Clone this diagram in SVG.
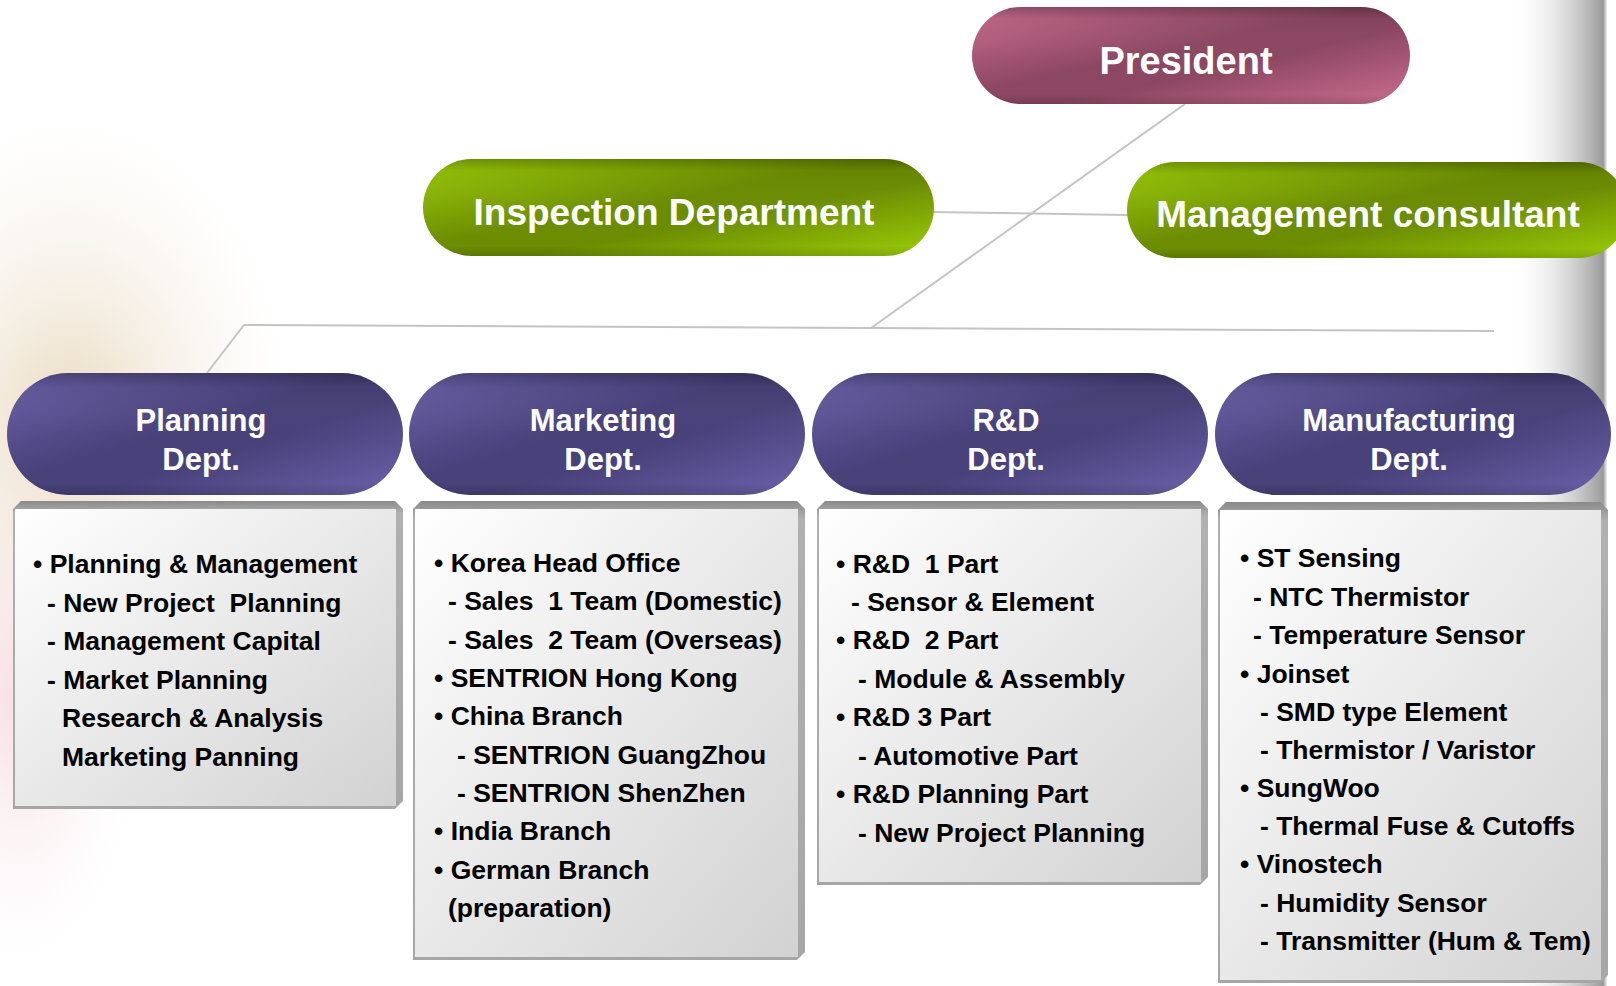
<svg xmlns="http://www.w3.org/2000/svg" width="1616" height="986" viewBox="0 0 1616 986">
<defs>
<style>
.lbl{font-family:"Liberation Sans",Arial,sans-serif;font-weight:bold;fill:#ffffff;text-anchor:middle}
.big{font-size:37px}
.dep{font-size:31px}
.it{font-family:"Liberation Sans",Arial,sans-serif;font-weight:bold;font-size:26.5px;fill:#000000;white-space:pre}
.conn{fill:none;stroke:#c4c4c4;stroke-width:2}
.shine{fill:url(#shine)}
</style>
<linearGradient id="gPink" x1="0" y1="0" x2="1" y2="1">
<stop offset="0" stop-color="#cc6e90"/><stop offset="0.45" stop-color="#8c4762"/><stop offset="0.6" stop-color="#8c4762"/><stop offset="1" stop-color="#cc6e90"/>
</linearGradient>
<linearGradient id="gGreen" x1="0" y1="0" x2="1" y2="1">
<stop offset="0" stop-color="#9ccf08"/><stop offset="0.45" stop-color="#6c8c02"/><stop offset="0.6" stop-color="#6c8c02"/><stop offset="1" stop-color="#9ccf08"/>
</linearGradient>
<linearGradient id="gPurple" x1="0" y1="0" x2="1" y2="1">
<stop offset="0" stop-color="#6d62ab"/><stop offset="0.45" stop-color="#48417a"/><stop offset="0.6" stop-color="#48417a"/><stop offset="1" stop-color="#6d62ab"/>
</linearGradient>
<linearGradient id="shine" x1="0" y1="0" x2="0" y2="1">
<stop offset="0" stop-color="#000000" stop-opacity="0.28"/><stop offset="0.12" stop-color="#000000" stop-opacity="0.05"/><stop offset="0.5" stop-color="#ffffff" stop-opacity="0"/><stop offset="0.9" stop-color="#000000" stop-opacity="0"/><stop offset="1" stop-color="#000000" stop-opacity="0.15"/>
</linearGradient>
<linearGradient id="face" x1="0" y1="0" x2="1" y2="1">
<stop offset="0" stop-color="#ffffff"/><stop offset="1" stop-color="#d2d2d2"/>
</linearGradient>
<linearGradient id="frame" x1="0" y1="0" x2="0" y2="1">
<stop offset="0" stop-color="#8a8a8a"/><stop offset="0.04" stop-color="#b0b0b0"/><stop offset="1" stop-color="#a6a6a6"/>
</linearGradient>
<linearGradient id="rightBand" x1="0" y1="0" x2="1" y2="0">
<stop offset="0" stop-color="#ffffff" stop-opacity="0"/><stop offset="0.88" stop-color="#9a9a9a"/><stop offset="0.92" stop-color="#ffffff"/><stop offset="1" stop-color="#ffffff"/>
</linearGradient>
<radialGradient id="glow1" cx="0.5" cy="0.5" r="0.5">
<stop offset="0" stop-color="#e6d4b4" stop-opacity="0.85"/><stop offset="1" stop-color="#f4ece4" stop-opacity="0"/>
</radialGradient>
<radialGradient id="glow2" cx="0.5" cy="0.5" r="0.5">
<stop offset="0" stop-color="#f0c8d0" stop-opacity="0.6"/><stop offset="1" stop-color="#f8e8ec" stop-opacity="0"/>
</radialGradient>
</defs>
<rect width="1616" height="986" fill="#ffffff"/>
<ellipse cx="70" cy="420" rx="220" ry="300" fill="url(#glow1)"/>
<ellipse cx="20" cy="700" rx="120" ry="260" fill="url(#glow2)"/>
<rect x="1510" y="0" width="106" height="986" fill="url(#rightBand)"/>

<g id="connectors">
<path class="conn" d="M1185,104 L871,328"/>
<path class="conn" d="M207,373 L244,325 L871,328 L1494,331"/>
<path class="conn" d="M930,212 L1128,215"/>
</g>

<g id="president">
<rect x="972" y="7" width="438" height="97" rx="48.5" fill="url(#gPink)"/>
<rect x="972" y="7" width="438" height="97" rx="48.5" class="shine"/>
<text class="lbl" style="font-size:38px" x="1186" y="74">President</text>
</g>

<g id="inspection">
<rect x="423" y="159" width="511" height="97" rx="48.5" fill="url(#gGreen)"/>
<rect x="423" y="159" width="511" height="97" rx="48.5" class="shine"/>
<text class="lbl big" x="674" y="225">Inspection Department</text>
</g>

<g id="consultant">
<rect x="1127" y="162" width="500" height="96" rx="48" fill="url(#gGreen)"/>
<rect x="1127" y="162" width="500" height="96" rx="48" class="shine"/>
<text class="lbl big" x="1368" y="227">Management consultant</text>
</g>

<g id="planning">
<rect x="7" y="373" width="396" height="122" rx="61" fill="url(#gPurple)"/>
<rect x="7" y="373" width="396" height="122" rx="61" class="shine"/>
<text class="lbl dep" x="201" y="431">Planning</text>
<text class="lbl dep" x="201" y="470">Dept.</text>
<polygon points="13,509 21,501 395,501 403,509 403,801 395,809 13,809" fill="url(#frame)"/>
<rect x="15" y="509" width="381" height="297" fill="url(#face)"/>
<text class="it" x="33" y="573">• Planning &amp; Management</text>
<text class="it" x="47" y="612">- New Project  Planning</text>
<text class="it" x="47" y="650">- Management Capital</text>
<text class="it" x="47" y="689">- Market Planning</text>
<text class="it" x="62" y="727">Research &amp; Analysis</text>
<text class="it" x="62" y="766">Marketing Panning</text>
</g>

<g id="marketing">
<rect x="409" y="373" width="396" height="122" rx="61" fill="url(#gPurple)"/>
<rect x="409" y="373" width="396" height="122" rx="61" class="shine"/>
<text class="lbl dep" x="603" y="431">Marketing</text>
<text class="lbl dep" x="603" y="470">Dept.</text>
<polygon points="413,509 421,501 797,501 805,509 805,952 797,960 413,960" fill="url(#frame)"/>
<rect x="415" y="509" width="383" height="448" fill="url(#face)"/>
<text class="it" x="434" y="572">• Korea Head Office</text>
<text class="it" x="448" y="610">- Sales  1 Team (Domestic)</text>
<text class="it" x="448" y="649">- Sales  2 Team (Overseas)</text>
<text class="it" x="434" y="687">• SENTRION Hong Kong</text>
<text class="it" x="434" y="725">• China Branch</text>
<text class="it" x="457" y="764">- SENTRION GuangZhou</text>
<text class="it" x="457" y="802">- SENTRION ShenZhen</text>
<text class="it" x="434" y="840">• India Branch</text>
<text class="it" x="434" y="879">• German Branch</text>
<text class="it" x="448" y="917">(preparation)</text>
</g>

<g id="rnd">
<rect x="812" y="373" width="396" height="122" rx="61" fill="url(#gPurple)"/>
<rect x="812" y="373" width="396" height="122" rx="61" class="shine"/>
<text class="lbl dep" x="1006" y="431">R&amp;D</text>
<text class="lbl dep" x="1006" y="470">Dept.</text>
<polygon points="817,509 825,501 1200,501 1208,509 1208,877 1200,885 817,885" fill="url(#frame)"/>
<rect x="819" y="509" width="382" height="373" fill="url(#face)"/>
<text class="it" x="836" y="573">• R&amp;D  1 Part</text>
<text class="it" x="851" y="611">- Sensor &amp; Element</text>
<text class="it" x="836" y="649">• R&amp;D  2 Part</text>
<text class="it" x="858" y="688">- Module &amp; Assembly</text>
<text class="it" x="836" y="726">• R&amp;D 3 Part</text>
<text class="it" x="858" y="765">- Automotive Part</text>
<text class="it" x="836" y="803">• R&amp;D Planning Part</text>
<text class="it" x="858" y="842">- New Project Planning</text>
</g>

<g id="manufacturing">
<rect x="1215" y="373" width="396" height="122" rx="61" fill="url(#gPurple)"/>
<rect x="1215" y="373" width="396" height="122" rx="61" class="shine"/>
<text class="lbl dep" x="1409" y="431">Manufacturing</text>
<text class="lbl dep" x="1409" y="470">Dept.</text>
<polygon points="1218,510 1226,502 1600,502 1608,510 1608,975 1600,983 1218,983" fill="url(#frame)"/>
<rect x="1220" y="510" width="381" height="470" fill="url(#face)"/>
<text class="it" x="1240" y="567">• ST Sensing</text>
<text class="it" x="1253" y="606">- NTC Thermistor</text>
<text class="it" x="1253" y="644">- Temperature Sensor</text>
<text class="it" x="1240" y="683">• Joinset</text>
<text class="it" x="1260" y="721">- SMD type Element</text>
<text class="it" x="1260" y="759">- Thermistor / Varistor</text>
<text class="it" x="1240" y="797">• SungWoo</text>
<text class="it" x="1260" y="835">- Thermal Fuse &amp; Cutoffs</text>
<text class="it" x="1240" y="873">• Vinostech</text>
<text class="it" x="1260" y="912">- Humidity Sensor</text>
<text class="it" x="1260" y="950">- Transmitter (Hum &amp; Tem)</text>
</g>
</svg>
